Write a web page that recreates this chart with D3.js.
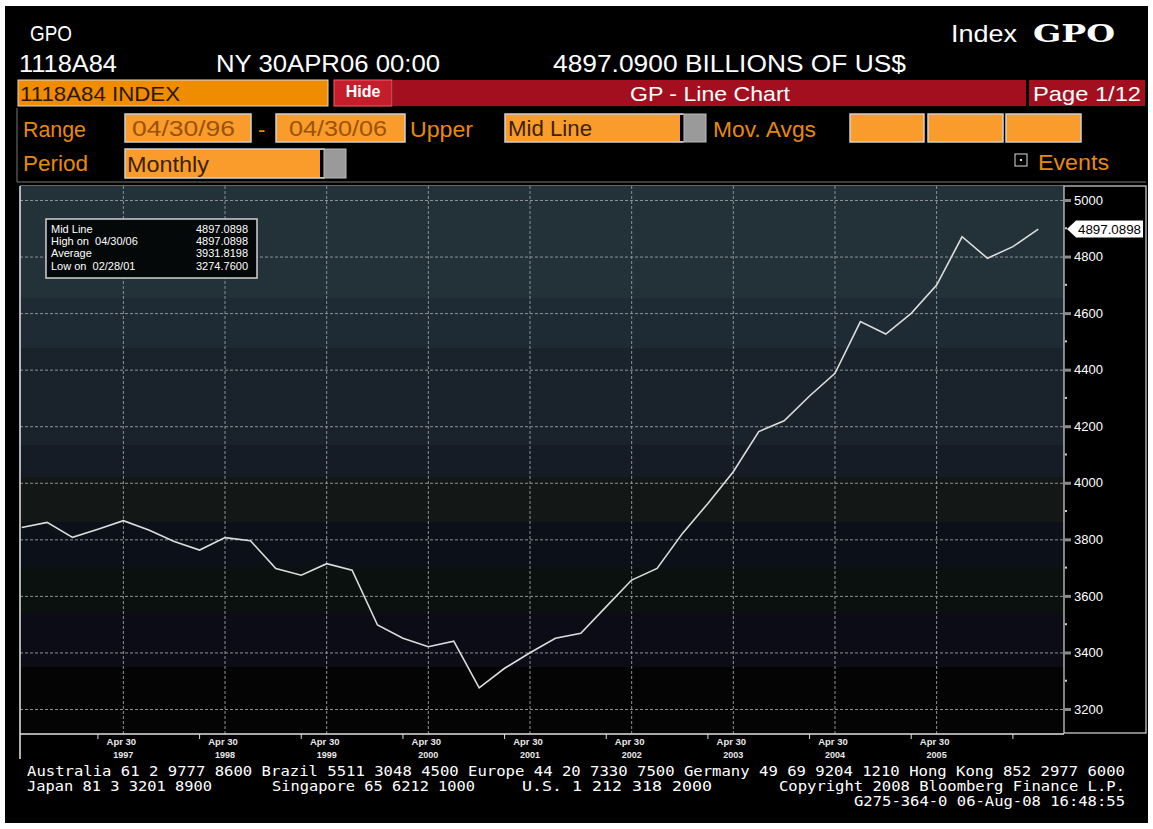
<!DOCTYPE html>
<html>
<head>
<meta charset="utf-8">
<script src="https://cdn.jsdelivr.net/npm/d3@7"></script>
<style>
body { margin: 0; background: #fff; }
svg { display: block; }
text { font-family: "Liberation Sans", Arial, sans-serif; }
</style>
</head>
<body>
<div id="chart"></div>
<script>
// quarterly GPO values, Apr 96 .. Apr 06 (billions of US$)
const values = [3842, 3860, 3807, 3836, 3866, 3833, 3792, 3762, 3806, 3795,
                3697, 3673, 3714, 3691, 3497, 3450, 3420, 3440, 3274.76, 3344,
                3399, 3450, 3468, 3562, 3656, 3697, 3821, 3927, 4039, 4181,
                4219, 4307, 4387, 4570, 4526, 4599, 4699, 4870, 4794, 4835,
                4897.0898];
const yearIndex = [4, 8, 12, 16, 20, 24, 28, 32, 36];
const yearLabels = ["1997", "1998", "1999", "2000", "2001", "2002", "2003", "2004", "2005"];
const janIndex = [3, 7, 11, 15, 19, 23, 27, 31, 35, 39];
const yTicks = [3200, 3400, 3600, 3800, 4000, 4200, 4400, 4600, 4800, 5000];
const yMinor = [3300, 3500, 3700, 3900, 4100, 4300, 4500, 4700, 4900];
const statNames = ["Mid Line", "High on  04/30/06", "Average", "Low on  02/28/01"];
const statValues = ["4897.0898", "4897.0898", "3931.8198", "3274.7600"];
const lastLabel = "4897.0898";

const W = 1153, H = 829;
const plot = { left: 20, right: 1064, top: 186, bottom: 734 };

const svg = d3.select("#chart").append("svg")
    .attr("width", W)
    .attr("height", H);

svg.append("rect").attr("x", 5).attr("y", 6).attr("width", 1143).attr("height", 817).attr("fill", "#000");

// ---- header
function txt(s, x, y, o) {
    o = o || {};
    const t = svg.append("text")
        .attr("x", x).attr("y", y)
        .attr("font-size", o.size || 22)
        .attr("fill", o.fill || "#fff")
        .text(s);
    if (o.len) t.attr("textLength", o.len).attr("lengthAdjust", "spacingAndGlyphs");
    if (o.weight) t.attr("font-weight", o.weight);
    if (o.family) t.style("font-family", o.family);
    if (o.anchor) t.attr("text-anchor", o.anchor);
    return t;
}

txt("GPO", 30, 41, { size: 22, len: 42 });
txt("1118A84", 19, 72, { size: 24, len: 98 });
txt("NY 30APR06 00:00", 216, 72, { size: 24, len: 224 });
txt("4897.0900 BILLIONS OF US$", 553, 72, { size: 24, len: 353 });
txt("Index", 951, 42, { size: 24, len: 66 });
txt("GPO", 1033, 42, { size: 25, len: 82, weight: "bold", family: "'DejaVu Serif', serif" });

// row 3
svg.append("rect").attr("x", 18).attr("y", 80).attr("width", 310).attr("height", 26)
    .attr("fill", "#f08c00").attr("stroke", "#d8d8d8");
txt("1118A84 INDEX", 20, 101, { size: 21, fill: "#2a1800", len: 160 });
svg.append("rect").attr("x", 334).attr("y", 80).attr("width", 58).attr("height", 26)
    .attr("fill", "#c41d2c").attr("stroke", "#ff5a68");
txt("Hide", 363, 97, { size: 16, anchor: "middle", weight: "bold" });
svg.append("rect").attr("x", 393).attr("y", 80).attr("width", 633).attr("height", 26).attr("fill", "#a30f1f");
txt("GP - Line Chart", 710, 101, { size: 21, anchor: "middle", len: 160 });
svg.append("rect").attr("x", 1029).attr("y", 80).attr("width", 116).attr("height", 26).attr("fill", "#a30f1f");
txt("Page 1/12", 1033, 101, { size: 21, len: 108 });

// form frame
svg.append("path").attr("d", "M17,108 V182 H1146").attr("fill", "none").attr("stroke", "#777");

const orange = "#e8890a", boxFill = "#fa9c2c";
function box(x, y, w, h, label, tx, tlen, tcol) {
    svg.append("rect").attr("x", x).attr("y", y).attr("width", w).attr("height", h)
        .attr("fill", boxFill).attr("stroke", "#cfcfcf").attr("stroke-width", 1.5);
    if (label) txt(label, tx, y + h - 6, { size: 22, fill: tcol || "#3a2200", len: tlen });
}
function grey(x, y, w, h) {
    svg.append("rect").attr("x", x).attr("y", y).attr("width", w).attr("height", h)
        .attr("fill", "#9a9a9a").attr("stroke", "#bbb");
}

txt("Range", 23, 137, { size: 22, fill: orange, len: 63 });
box(125, 114, 126, 28, "04/30/96", 132, 103, "#9a5206");
txt("-", 258, 137, { size: 22, fill: orange });
box(276, 114, 129, 28, "04/30/06", 289, 98, "#9a5206");
txt("Upper", 410, 137, { size: 22, fill: orange, len: 63 });
box(505, 114, 178, 28, "Mid Line", 508, 84);
svg.append("rect").attr("x", 680).attr("y", 115).attr("width", 4).attr("height", 26).attr("fill", "#000");
grey(684, 114, 22, 28);
txt("Mov. Avgs", 713, 137, { size: 22, fill: orange, len: 103 });
box(850, 114, 74, 28);
box(928, 114, 75, 28);
box(1006, 114, 75, 28);

txt("Period", 23, 171, { size: 22, fill: orange, len: 65 });
box(125, 149, 199, 29, "Monthly", 127, 82);
svg.append("rect").attr("x", 320).attr("y", 150).attr("width", 4).attr("height", 27).attr("fill", "#000");
grey(324, 149, 22, 29);
svg.append("rect").attr("x", 1015).attr("y", 154).attr("width", 12).attr("height", 12)
    .attr("fill", "none").attr("stroke", "#ddd");
svg.append("rect").attr("x", 1020).attr("y", 159).attr("width", 2).attr("height", 2).attr("fill", "#ddd");
txt("Events", 1038, 170, { size: 22, fill: orange, len: 71 });

// ---- chart
const x = d3.scaleLinear().domain([0, values.length - 1]).range([21.7, 1038.3]);
const y = d3.scaleLinear().domain([3200, 5000]).range([709, 200]);

const bands = [
    [186, 298, "#233139"], [298, 348, "#1e2b34"], [348, 445, "#1a232c"],
    [445, 477, "#151c26"], [477, 522, "#131816"], [522, 568, "#0c1119"],
    [568, 612, "#0b110f"], [612, 667, "#0c0c17"], [667, 734, "#040404"]
];
svg.append("g").selectAll("rect").data(bands).join("rect")
    .attr("x", plot.left).attr("y", d => d[0])
    .attr("width", plot.right - plot.left).attr("height", d => d[1] - d[0])
    .attr("fill", d => d[2]);

// grid
const gridStyle = s => s.attr("stroke", "#8d9296").attr("stroke-width", 1).attr("stroke-dasharray", "3,2");
svg.append("g").selectAll("line").data(yTicks).join("line")
    .attr("x1", plot.left).attr("x2", plot.right)
    .attr("y1", d => y(d) + 0.5).attr("y2", d => y(d) + 0.5)
    .call(gridStyle);
svg.append("g").selectAll("line").data(yearIndex).join("line")
    .attr("x1", d => x(d)).attr("x2", d => x(d))
    .attr("y1", plot.top).attr("y2", plot.bottom)
    .call(gridStyle);

// series
const line = d3.line().x((d, i) => x(i)).y(d => y(d));
svg.append("path").datum(values)
    .attr("d", line)
    .attr("fill", "none")
    .attr("stroke", "#dcdcdc")
    .attr("stroke-width", 1.6);

// frame
svg.append("line").attr("x1", plot.left).attr("x2", plot.right).attr("y1", plot.top - 0.5).attr("y2", plot.top - 0.5)
    .attr("stroke", "#666");
svg.append("line").attr("x1", plot.left).attr("x2", plot.left).attr("y1", plot.top).attr("y2", 759)
    .attr("stroke", "#e8e8e8").attr("stroke-width", 1.5);
svg.append("line").attr("x1", plot.left).attr("x2", plot.right).attr("y1", plot.bottom).attr("y2", plot.bottom)
    .attr("stroke", "#e0e0e0").attr("stroke-width", 1.5);

// right axis box
svg.append("rect").attr("x", plot.right).attr("y", plot.top).attr("width", 82).attr("height", plot.bottom - plot.top - 1)
    .attr("fill", "#000").attr("stroke", "#d8d8d8").attr("stroke-width", 1.2);

const yAxis = d3.axisRight(y).tickValues(yTicks).tickSize(7).tickPadding(3).tickFormat(d3.format("d"));
const ga = svg.append("g").attr("transform", `translate(${plot.right},0)`).call(yAxis);
ga.select(".domain").remove();
ga.selectAll(".tick line").attr("stroke", "#8a8a8a").attr("stroke-width", 3);
ga.selectAll(".tick text").attr("fill", "#fff").attr("font-size", 13)
    .style("font-family", "'Liberation Sans', Arial, sans-serif");
svg.append("g").selectAll("rect").data(yMinor).join("rect")
    .attr("x", plot.right + 1).attr("y", d => y(d) - 1).attr("width", 2).attr("height", 2)
    .attr("fill", "#ccc");

// last value tag
const ly = y(values[values.length - 1]);
svg.append("path")
    .attr("d", `M${plot.right + 3},${ly} L${plot.right + 12},${ly - 8.5} H${plot.right + 79} V${ly + 8.5} H${plot.right + 12} Z`)
    .attr("fill", "#fff");
txt(lastLabel, plot.right + 77, ly + 4.5, { size: 12, fill: "#000", anchor: "end", len: 63 });

// x axis labels
const gx = svg.append("g");
gx.selectAll(".lab").data(yearIndex).join("text")
    .attr("x", d => x(d) - 2).attr("y", 745)
    .attr("text-anchor", "middle").attr("font-size", 9.5).attr("font-weight", "bold")
    .attr("fill", "#e8e8e8").text("Apr 30");
gx.selectAll(".yr").data(yearLabels).join("text")
    .attr("x", (d, i) => x(yearIndex[i])).attr("y", 758)
    .attr("text-anchor", "middle").attr("font-size", 9).attr("font-weight", "bold")
    .attr("fill", "#e8e8e8").text(d => d);
gx.selectAll("line").data(janIndex).join("line")
    .attr("x1", d => x(d)).attr("x2", d => x(d))
    .attr("y1", plot.bottom).attr("y2", plot.bottom + 5)
    .attr("stroke", "#ddd");

// stats box
const leg = svg.append("g");
leg.append("rect").attr("x", 46).attr("y", 219).attr("width", 211).attr("height", 59)
    .attr("fill", "#050808").attr("stroke", "#d0d0d0").attr("stroke-width", 1.5);
leg.selectAll(".n").data(statNames).join("text")
    .attr("x", 51).attr("y", (d, i) => 233 + i * 12.2)
    .attr("font-size", 11).attr("fill", "#fff")
    .style("white-space", "pre").attr("xml:space", "preserve")
    .text(d => d);
leg.selectAll(".v").data(statValues).join("text")
    .attr("x", 248).attr("y", (d, i) => 233 + i * 12.2)
    .attr("text-anchor", "end").attr("font-size", 11).attr("fill", "#fff")
    .text(d => d);

// footer
const mono = "'DejaVu Sans Mono', monospace";
const foot = [
    ["Australia 61 2 9777 8600 Brazil 5511 3048 4500 Europe 44 20 7330 7500 Germany 49 69 9204 1210 Hong Kong 852 2977 6000", 27, 776, 1098],
    ["Japan 81 3 3201 8900", 27, 791, 185],
    ["Singapore 65 6212 1000", 272, 791, 203],
    ["U.S. 1 212 318 2000", 522, 791, 190],
    ["Copyright 2008 Bloomberg Finance L.P.", 779, 791, 346],
    ["G275-364-0 06-Aug-08 16:48:55", 854, 806, 271]
];
foot.forEach(f => txt(f[0], f[1], f[2], { size: 14, len: f[3], family: mono }));
</script>
</body>
</html>
